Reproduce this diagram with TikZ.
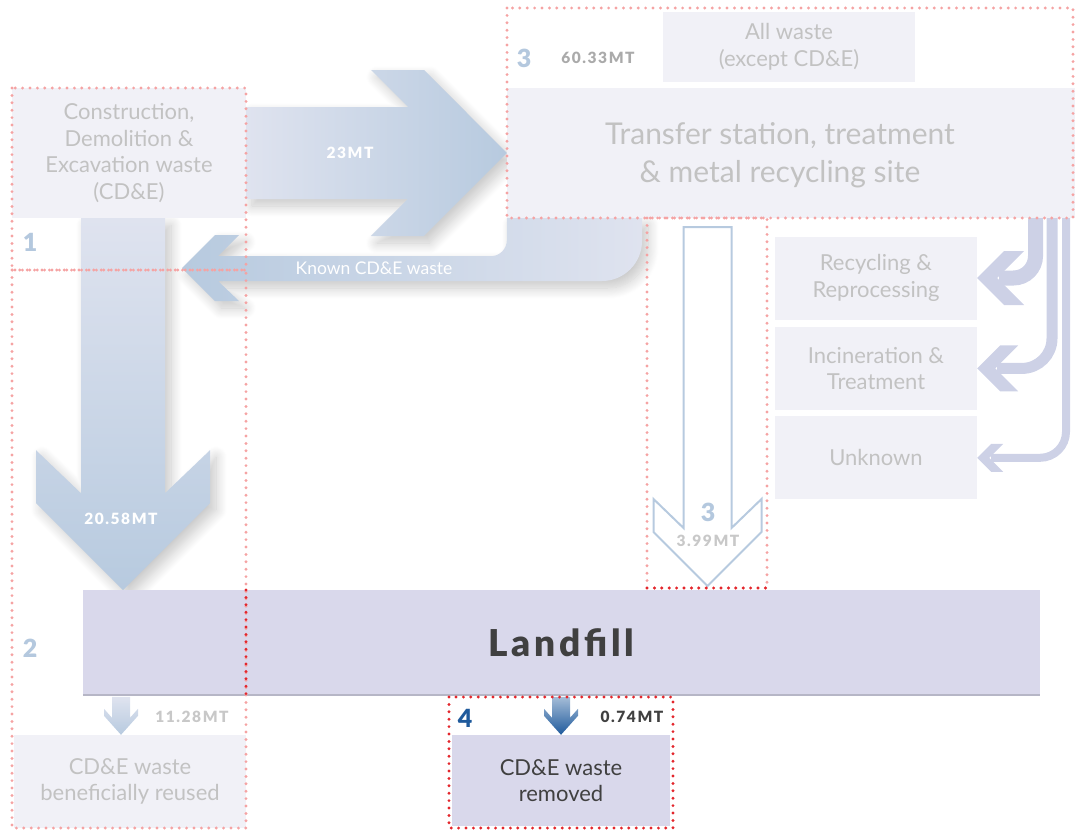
\documentclass[tikz,border=0pt]{standalone}
\usepackage{fontspec}
\setmainfont{Lato}
\newfontfamily\numfont[LetterSpace=10,BoldFont={Lato Black}]{Lato}
\usetikzlibrary{positioning,shadows.blur,backgrounds}
\pgfdeclarelayer{haze}
\pgfsetlayers{haze,background,main}

\definecolor{boxfill}{HTML}{F1F1F7}
\definecolor{fadetext}{HTML}{C2C2C2}
\definecolor{darktext}{HTML}{404040}
\definecolor{landfillc}{HTML}{D9D8EB}
\definecolor{flowblue}{HTML}{B7CADF}
\definecolor{flowlight}{HTML}{DFE3EF}
\definecolor{lavender}{HTML}{CDD1E6}
\definecolor{tagblue}{HTML}{B4C8DE}
\definecolor{darkblue}{HTML}{1F5A9C}
\definecolor{zonepink}{HTML}{F5A3A3}
\definecolor{zonered}{HTML}{E3262C}
\definecolor{qtygrey}{HTML}{AAAAAA}
\definecolor{fadeqty}{HTML}{C8C8C8}
\definecolor{edgegrey}{HTML}{B6B6C6}

\tikzset{
  soft/.style={blur shadow={shadow xshift=6pt, shadow yshift=-7pt,
    shadow blur radius=11pt, shadow opacity=22, shadow blur steps=14}},
  box/.style={fill=boxfill, text=fadetext, align=center, inner sep=0pt,
    font=\fontsize{22}{26.5}\selectfont},
  zone/.style={draw=zonepink, line width=3.2pt, line cap=round,
    dash pattern=on 0pt off 7.4pt},
  redzone/.style={zone, draw=zonered},
  qty/.style={font=\numfont\bfseries\fontsize{15.5}{18}\selectfont},
  tag/.style={text=tagblue, font=\numfont\bfseries\fontsize{25}{26}\selectfont},
  sidearrow/.style={draw=lavender, rounded corners=22pt},
}

\begin{document}
\begin{tikzpicture}[x=1pt,y=-1pt]
\useasboundingbox (0,0) rectangle (1075,830);

% boxes
\node[box, minimum width=234, minimum height=130] (cde) at (129,153)
  {Construction,\\Demolition \&\\Excavation waste\\(CD\&E)};
\node[box, minimum width=252, minimum height=70] (allwaste) at (789,47)
  {All waste\\(except CD\&E)};
\node[box, minimum width=568, minimum height=130] (transfer) at (791,153) {};
\node[text=fadetext, align=center, font=\fontsize{30}{38}\selectfont]
  (transfertext) at (780,155) {Transfer station, treatment\\\& metal recycling site};
\node[box, minimum width=202, minimum height=83] (recyc) at (876,278)
  {Recycling \&\\Reprocessing};
\node[box, minimum width=202, minimum height=83, below=7pt of recyc] (incin)
  {Incineration \&\\Treatment};
\node[box, minimum width=202, minimum height=83, below=6pt of incin] (unknown)
  {Unknown};
\node[box, fill=landfillc, text=darktext, minimum width=957, minimum height=105,
  font=\numfont\bfseries\fontsize{37}{40}\selectfont] (landfill) at (561.5,642.5) {Landfill};
\node[box, minimum width=232, minimum height=93] (reused) at (130,781.5)
  {CD\&E waste\\beneficially reused};
\node[box, fill=landfillc, text=darktext, minimum width=218, minimum height=91]
  (removed) at (561,780.5) {CD\&E waste\\removed};
\draw[edgegrey, line width=1.5pt] (landfill.south west) -- (landfill.south east);

% shadows under everything
\begin{pgfonlayer}{haze}
\foreach \n in {cde,allwaste,transfer,recyc,incin,unknown,landfill,reused,removed}
  \path[soft] (\n.north west) rectangle (\n.south east);
\end{pgfonlayer}

\begin{pgfonlayer}{background}
% 23MT
\shade[soft, left color=flowlight, right color=flowblue] (cde.east) ++(0,-46)
  -- ++(162,0) -- ++(-37,-37) -- ++(53,0) -- (transfer.west) -- ++(-83,83)
  -- ++(-53,0) -- ++(37,-37) -- ++(-162,0) -- cycle;
% 20.58MT
\shade[soft, top color=flowlight, bottom color=flowblue] (cde.south) ++(-48,0)
  -- ++(0,275) -- ++(-45,-43) -- ++(0,53) -- ++(87,87) -- ++(87,-87)
  -- ++(0,-53) -- ++(-45,43) -- ++(0,-275) -- cycle;
% known CD&E waste
\shade[soft, left color=flowblue, right color=flowlight] (transfer.south west)
  -- ++(0,22) arc(0:90:16) -- (218,256) -- ++(21,-21) -- ++(-24,0)
  -- (182,268) -- ++(33,33) -- ++(24,0) -- ++(-21,-20) -- (602,281)
  arc(90:0:40) -- (642,218) -- cycle;
\end{pgfonlayer}
\node[qty, text=white] at (350,153) {23MT};
\node[qty, text=white] at (121,519) {20.58MT};
\node[text=white, font=\fontsize{17.5}{20}\selectfont] at (374,268) {Known CD\&E waste};

% 3.99MT
\coordinate (drop) at (707.5,227);
\draw[flowblue, line width=2pt] (drop) ++(-24,0) -- ++(0,301) -- ++(-30,-29)
  -- ++(0,33) -- ++(54,54) -- ++(54,-54) -- ++(0,-33) -- ++(-30,29)
  -- ++(0,-301) -- cycle;
\node[tag] at (708,512) {3};
\node[qty, text=fadeqty] at (708,541) {3.99MT};

% side flows
\draw[sidearrow, line width=15pt] (1035.5,218) |- ([xshift=22pt]recyc.east);
\fill[lavender] (recyc.east) -- ++(27,-27) -- ++(20,0) -- ++(-27,27)
  -- ++(27,27) -- ++(-20,0) -- cycle;
\draw[sidearrow, line width=11pt, rounded corners=30pt] (1052,218)
  |- ([xshift=20pt]incin.east);
\fill[lavender] (incin.east) -- ++(23,-23) -- ++(18,0) -- ++(-23,23)
  -- ++(23,23) -- ++(-18,0) -- cycle;
\draw[sidearrow, line width=8pt, rounded corners=26pt] (1066,218)
  |- ([xshift=14pt]unknown.east);
\fill[lavender] (unknown.east) -- ++(14,-14) -- ++(12,0) -- ++(-14,14)
  -- ++(14,14) -- ++(-12,0) -- cycle;

% 11.28MT
\shade[top color=flowlight, bottom color=flowblue] (reused.north) ++(-9,0)
  -- ++(17,-19) -- ++(0,-7) -- ++(-8,9) -- ++(0,-21) -- ++(-18,0)
  -- ++(0,21) -- ++(-8,-9) -- ++(0,7) -- cycle;
\node[qty, text=fadeqty] at (192,717) {11.28MT};

% 0.74MT
\shade[top color=darkblue!40, bottom color=darkblue] (removed.north)
  -- ++(17,-19) -- ++(0,-7) -- ++(-8,9) -- ++(0,-21) -- ++(-18,0)
  -- ++(0,21) -- ++(-8,-9) -- ++(0,7) -- cycle;
\node[qty, text=darktext] at (632,717) {0.74MT};

% tags
\node[tag] at (30,242) {1};
\node[tag] at (30,648) {2};
\node[tag] at (524,58) {3};
\node[qty, text=qtygrey] at (598,58) {60.33MT};
\node[tag, text=darkblue] at (465,718) {4};

% zones
\draw[zone] (12,88) rectangle (246,270);
\draw[zone] (12,270) rectangle (246,828);
\draw[zone] (507,8) rectangle (1073,218);
\draw[zone] (647,218) rectangle (767,588);
\draw[redzone] (246,590) -- (246,695);
\draw[redzone] (647,588) -- (767,588);
\draw[redzone] (449,697) rectangle (673,828);
\end{tikzpicture}
\end{document}
